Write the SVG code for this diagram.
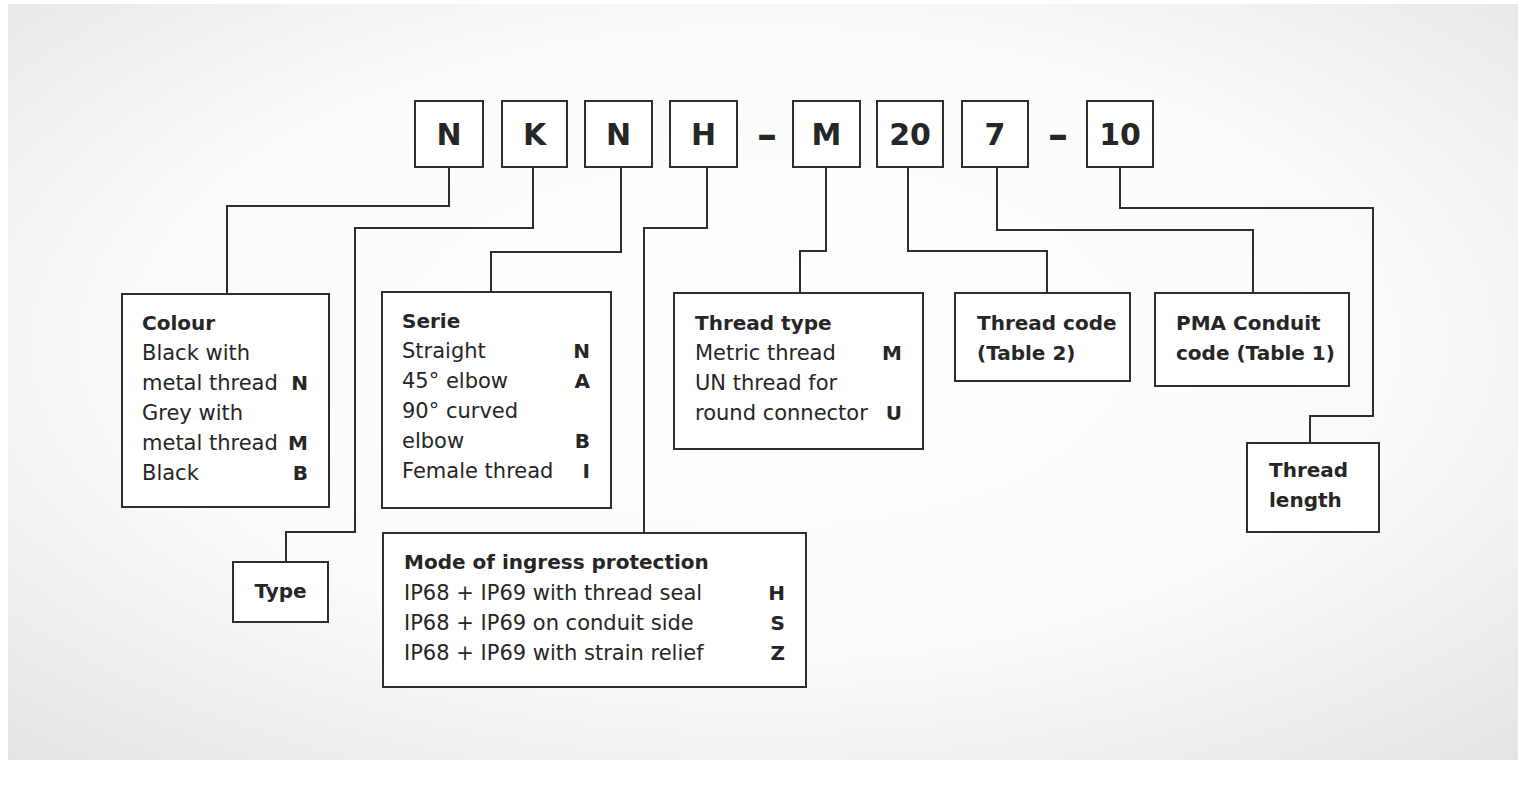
<svg xmlns="http://www.w3.org/2000/svg" width="1518" height="787" viewBox="0 0 1518 787">
<defs>
<radialGradient id="bg" cx="0.5" cy="0.45" r="0.75">
<stop offset="0" stop-color="#ffffff"/>
<stop offset="0.55" stop-color="#fbfbfb"/>
<stop offset="1" stop-color="#e3e3e3"/>
</radialGradient>
</defs>
<style>
.box{fill:#fff;stroke:#2e2e2e;stroke-width:2}
.ln{fill:none;stroke:#2e2e2e;stroke-width:2}
text{font-family:"DejaVu Sans","Liberation Sans",sans-serif;fill:#262626}
.big{font-size:30px;font-weight:bold;text-anchor:middle}
.dash{font-size:40px;font-weight:bold;text-anchor:middle}
.t{font-size:20px;font-weight:bold}
.b{font-size:21px}
.c{font-size:20px;font-weight:bold;text-anchor:end}
</style>
<rect x="0" y="0" width="1518" height="787" fill="#fff"/>
<rect x="8" y="4" width="1510" height="756" fill="url(#bg)"/>

<g id="connectors">
<polyline class="ln" points="449,167 449,206 227,206 227,294"/>
<polyline class="ln" points="533,167 533,228 355,228 355,532 286,532 286,562"/>
<polyline class="ln" points="621,167 621,252 491,252 491,292"/>
<polyline class="ln" points="707,167 707,228 644,228 644,533"/>
<polyline class="ln" points="826,167 826,251 800,251 800,293"/>
<polyline class="ln" points="908,167 908,251 1047,251 1047,293"/>
<polyline class="ln" points="997,167 997,230 1253,230 1253,293"/>
<polyline class="ln" points="1120,167 1120,208 1373,208 1373,416 1310,416 1310,443"/>
</g>

<g id="code-N1"><rect class="box" x="415" y="101" width="68" height="66"/><text class="big" x="449" y="145">N</text></g>
<g id="code-K"><rect class="box" x="502" y="101" width="65" height="66"/><text class="big" x="534.5" y="145">K</text></g>
<g id="code-N2"><rect class="box" x="585" y="101" width="67" height="66"/><text class="big" x="618.5" y="145">N</text></g>
<g id="code-H"><rect class="box" x="670" y="101" width="67" height="66"/><text class="big" x="703.5" y="145">H</text></g>
<g id="dash1"><text class="dash" x="767" y="149">–</text></g>
<g id="code-M"><rect class="box" x="793" y="101" width="67" height="66"/><text class="big" x="826.5" y="145">M</text></g>
<g id="code-20"><rect class="box" x="877" y="101" width="66" height="66"/><text class="big" x="910" y="145">20</text></g>
<g id="code-7"><rect class="box" x="962" y="101" width="66" height="66"/><text class="big" x="995" y="145">7</text></g>
<g id="dash2"><text class="dash" x="1058" y="149">–</text></g>
<g id="code-10"><rect class="box" x="1087" y="101" width="66" height="66"/><text class="big" x="1120" y="145">10</text></g>

<g id="colour">
<rect class="box" x="122" y="294" width="207" height="213"/>
<text class="t" x="142" y="330">Colour</text>
<text class="b" x="142" y="360">Black with</text>
<text class="b" x="142" y="390">metal thread</text><text class="c" x="308" y="390">N</text>
<text class="b" x="142" y="420">Grey with</text>
<text class="b" x="142" y="450">metal thread</text><text class="c" x="308" y="450">M</text>
<text class="b" x="142" y="480">Black</text><text class="c" x="308" y="480">B</text>
</g>

<g id="serie">
<rect class="box" x="382" y="292" width="229" height="216"/>
<text class="t" x="402" y="328">Serie</text>
<text class="b" x="402" y="358">Straight</text><text class="c" x="590" y="358">N</text>
<text class="b" x="402" y="388">45° elbow</text><text class="c" x="590" y="388">A</text>
<text class="b" x="402" y="418">90° curved</text>
<text class="b" x="402" y="448">elbow</text><text class="c" x="590" y="448">B</text>
<text class="b" x="402" y="478">Female thread</text><text class="c" x="590" y="478">I</text>
</g>

<g id="thread-type">
<rect class="box" x="674" y="293" width="249" height="156"/>
<text class="t" x="695" y="330">Thread type</text>
<text class="b" x="695" y="360">Metric thread</text><text class="c" x="902" y="360">M</text>
<text class="b" x="695" y="390">UN thread for</text>
<text class="b" x="695" y="420">round connector</text><text class="c" x="902" y="420">U</text>
</g>

<g id="thread-code">
<rect class="box" x="955" y="293" width="175" height="88"/>
<text class="t" x="977" y="330">Thread code</text>
<text class="t" x="977" y="360">(Table 2)</text>
</g>

<g id="pma">
<rect class="box" x="1155" y="293" width="194" height="93"/>
<text class="t" x="1176" y="330">PMA Conduit</text>
<text class="t" x="1176" y="360">code (Table 1)</text>
</g>

<g id="thread-length">
<rect class="box" x="1247" y="443" width="132" height="89"/>
<text class="t" x="1269" y="477">Thread</text>
<text class="t" x="1269" y="507">length</text>
</g>

<g id="type">
<rect class="box" x="233" y="562" width="95" height="60"/>
<text class="t" x="280.5" y="598" text-anchor="middle">Type</text>
</g>

<g id="mode">
<rect class="box" x="383" y="533" width="423" height="154"/>
<text class="t" x="404" y="569">Mode of ingress protection</text>
<text class="b" x="404" y="600">IP68 + IP69 with thread seal</text><text class="c" x="785" y="600">H</text>
<text class="b" x="404" y="630">IP68 + IP69 on conduit side</text><text class="c" x="785" y="630">S</text>
<text class="b" x="404" y="660">IP68 + IP69 with strain relief</text><text class="c" x="785" y="660">Z</text>
</g>
</svg>
